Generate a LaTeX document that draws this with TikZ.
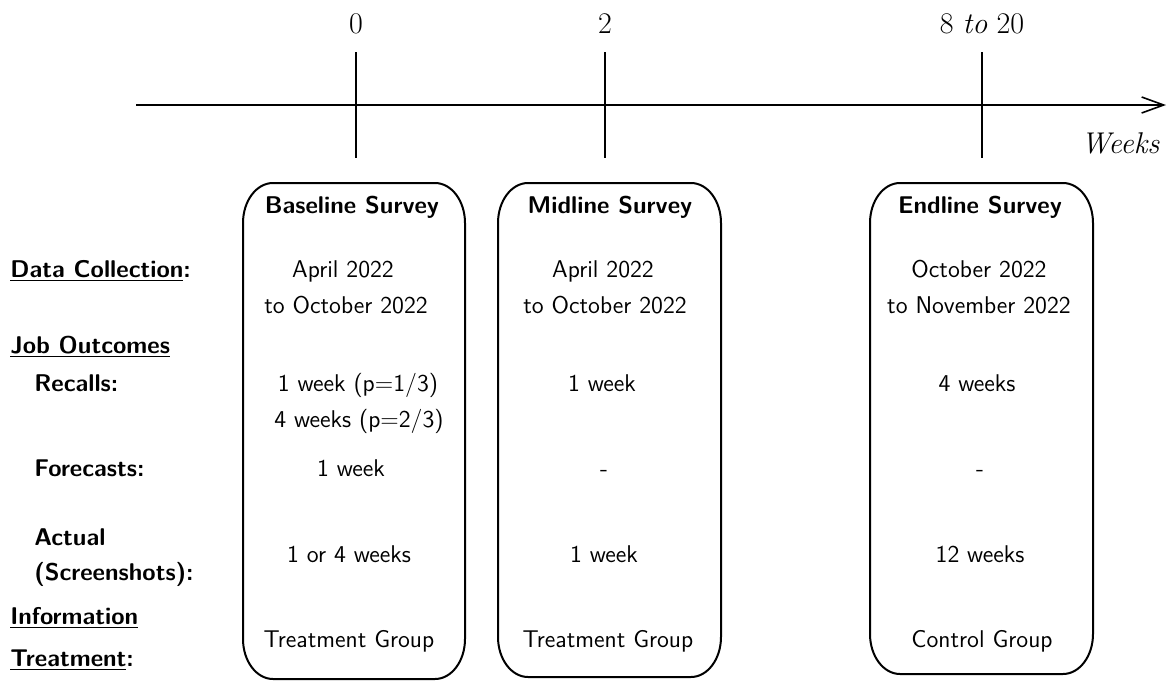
\documentclass[tikz,border=0pt]{standalone}
\usepackage{fontspec}
\usetikzlibrary{arrows.meta}
\tikzset{
  axisline/.style={line width=0.8pt},
  tickline/.style={line width=0.9pt},
  survbox/.style={line width=1pt},
  axlabel/.style={inner sep=0pt, anchor=base, font=\fontsize{15}{18}\selectfont\rmfamily},
  title/.style={inner sep=0pt, anchor=base, font=\fontsize{12.1}{14}\selectfont\sffamily\bfseries},
  rowlabel/.style={inner sep=0pt, anchor=base west, font=\fontsize{12.1}{14}\selectfont\sffamily\bfseries},
  val/.style={inner sep=0pt, anchor=base, font=\fontsize{12.1}{14}\selectfont\sffamily},
}
\newcommand{\survpath}[4]{%
  \draw[survbox] (#1,#4-40) -- (#1,#2+40)
    arc[start angle=180, end angle=90, x radius=15pt, y radius=20pt]
    -- (#3-30,#2)
    arc[start angle=90, end angle=0, x radius=15pt, y radius=20pt]
    -- (#3,#4-40)
    arc[start angle=0, end angle=-90, x radius=15pt, y radius=20pt]
    -- (#1+30,#4)
    arc[start angle=-90, end angle=-180, x radius=15pt, y radius=20pt]
    -- cycle;}
\begin{document}
\begin{tikzpicture}[x=0.5pt, y=-0.5pt]
\useasboundingbox (0,0) rectangle (1168,681);

% time axis
\coordinate (axL) at (136,105);
\coordinate (axR) at (1166,105);
\draw[axisline, -{Straight Barb[length=11pt, width=8pt]}] (axL) -- (axR);
\coordinate (t0a) at (356,52);  \coordinate (t0b) at (356,158);
\coordinate (t2a) at (605,52);  \coordinate (t2b) at (605,158);
\coordinate (t8a) at (982,52);  \coordinate (t8b) at (982,158);
\draw[tickline] (t0a) -- (t0b);
\draw[tickline] (t2a) -- (t2b);
\draw[tickline] (t8a) -- (t8b);
\node[axlabel] (l0) at (356,33) {0};
\node[axlabel] (l2) at (605,33) {2};
\node[axlabel] (l8) at (982,33) {8 \textit{to} 20};
\node[axlabel, anchor=base east] (weeks) at (1160,153) {\textit{Weeks}};

% survey boxes
\survpath{243}{183}{465}{679}
\survpath{498}{183}{721}{677}
\survpath{870}{183}{1093}{674}

% titles
\node[title] (tb) at (352,213) {Baseline Survey};
\node[title] (tm) at (610,213) {Midline Survey};
\node[title] (te) at (980,213) {Endline Survey};

% row labels
\node[rowlabel] (rdc) at (10,277) {\underline{Data Collection}:};
\node[rowlabel] (rjo) at (10,353) {\underline{Job Outcomes}};
\node[rowlabel] (rrc) at (34,391) {Recalls:};
\node[rowlabel] (rfc) at (34,476) {Forecasts:};
\node[rowlabel] (rac) at (34,545) {Actual};
\node[rowlabel] (rsc) at (34,580) {(Screenshots):};
\node[rowlabel] (rin) at (10,624) {\underline{Information}};
\node[rowlabel] (rtr) at (10,666) {\underline{Treatment}:};

% baseline values
\node[val] (b1) at (343,277) {April 2022};
\node[val] (b2) at (346,313) {to October 2022};
\node[val] (b3) at (358,391) {1 week (p=1/3)};
\node[val] (b4) at (359,427) {4 weeks (p=2/3)};
\node[val] (b5) at (351,476) {1 week};
\node[val] (b6) at (349,562) {1 or 4 weeks};
\node[val] (b7) at (349,647) {Treatment Group};

% midline values
\node[val] (m1) at (603,277) {April 2022};
\node[val] (m2) at (605,313) {to October 2022};
\node[val] (m3) at (602,391) {1 week};
\node[val] (m5) at (604,476) {-};
\node[val] (m6) at (604,562) {1 week};
\node[val] (m7) at (608,647) {Treatment Group};

% endline values
\node[val] (e1) at (979,277) {October 2022};
\node[val] (e2) at (979,313) {to November 2022};
\node[val] (e3) at (977,391) {4 weeks};
\node[val] (e5) at (980,476) {-};
\node[val] (e6) at (980,562) {12 weeks};
\node[val] (e7) at (982,647) {Control Group};
\end{tikzpicture}
\end{document}
